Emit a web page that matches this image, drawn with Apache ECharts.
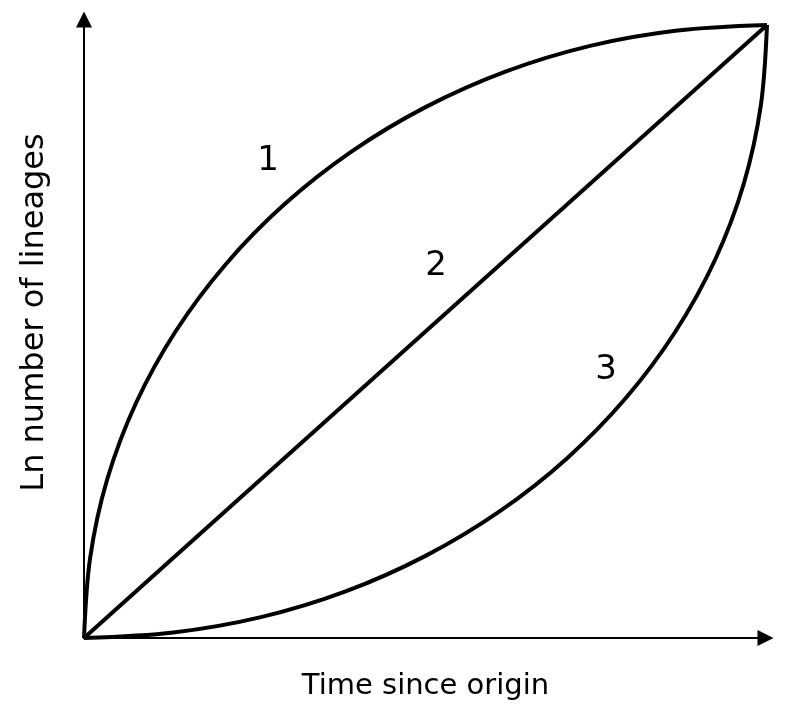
<!DOCTYPE html>
<html>
<head>
<meta charset="utf-8">
<script src="https://cdn.jsdelivr.net/npm/echarts@6/dist/echarts.min.js"></script>
<style>
  html, body { margin: 0; padding: 0; background: #fff; }
  #chart { width: 785px; height: 716px; }
</style>
</head>
<body>
<div id="chart"></div>
<script>
// time since origin vs ln(lineages), both scaled 0..1
const curve1 = [
  [0, 0], [0.009, 0.131], [0.034, 0.259], [0.076, 0.383], [0.134, 0.500],
  [0.207, 0.609], [0.293, 0.707], [0.391, 0.793], [0.500, 0.866], [0.617, 0.924],
  [0.741, 0.966], [0.869, 0.991], [1, 1]
];
const curve2 = [[0, 0], [1, 1]];
const curve3 = [
  [0, 0], [0.131, 0.009], [0.259, 0.034], [0.383, 0.076], [0.500, 0.134],
  [0.609, 0.207], [0.707, 0.293], [0.793, 0.391], [0.866, 0.500], [0.924, 0.617],
  [0.966, 0.741], [0.991, 0.869], [1, 1]
];
const curveLabels = ['1', '2', '3'];
const xTitle = 'Time since origin';
const yTitle = 'Ln number of lineages';

const FONT = 'DejaVu Sans';

const chart = echarts.init(document.getElementById('chart'), null, { renderer: 'canvas' });

function curve(data) {
  return {
    type: 'line', data: data, showSymbol: false, symbol: 'none',
    smooth: 0.33,
    lineStyle: { color: '#000', width: 4 },
    clip: false, silent: true
  };
}

const axisCommon = {
  type: 'value', min: 0, max: 1,
  nameLocation: 'middle',
  axisTick: { show: false },
  axisLabel: { show: false },
  splitLine: { show: false }
};

const option = {
  backgroundColor: '#ffffff',
  animation: false,
  grid: { left: 84, right: 18, top: 25, bottom: 78 },
  xAxis: Object.assign({}, axisCommon, {
    name: xTitle, nameGap: 34,
    nameTextStyle: { color: '#000', fontFamily: FONT, fontSize: 29 },
    axisLine: {
      onZero: false,
      lineStyle: { color: '#000', width: 2 },
      symbol: ['none', 'triangle'], symbolSize: [16, 16], symbolOffset: [0, -1.5]
    }
  }),
  yAxis: Object.assign({}, axisCommon, {
    name: yTitle, nameGap: 33,
    // shift the title up a bit, like the original
    nameTextStyle: { color: '#000', fontFamily: FONT, fontSize: 32, padding: [0, 0, 0, 38] },
    axisLine: {
      show: true, onZero: false,
      lineStyle: { color: '#000', width: 2 },
      symbol: ['none', 'triangle'], symbolSize: [16, 16], symbolOffset: [0, 5.5]
    }
  }),
  series: [curve(curve1), curve(curve2), curve(curve3)],
  graphic: [
    { type: 'text', x: 268, y: 161, style: { text: curveLabels[0], font: '34px "DejaVu Sans"', fill: '#000', align: 'center', verticalAlign: 'middle' } },
    { type: 'text', x: 436, y: 266, style: { text: curveLabels[1], font: '34px "DejaVu Sans"', fill: '#000', align: 'center', verticalAlign: 'middle' } },
    { type: 'text', x: 606, y: 370, style: { text: curveLabels[2], font: '34px "DejaVu Sans"', fill: '#000', align: 'center', verticalAlign: 'middle' } }
  ]
};

chart.setOption(option);
</script>
</body>
</html>
